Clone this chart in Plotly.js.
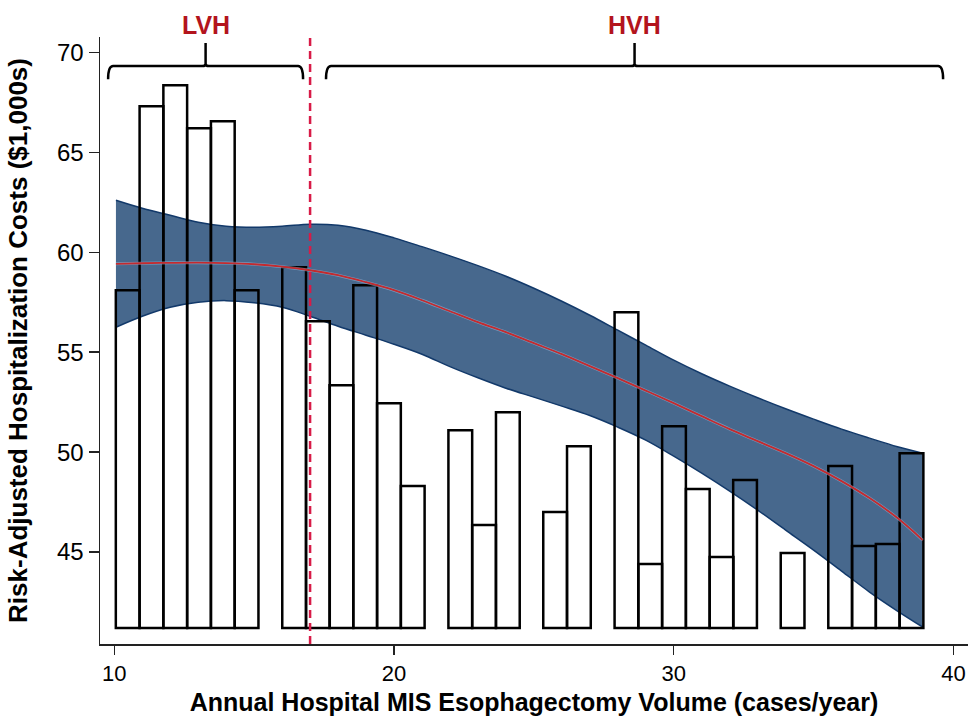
<!DOCTYPE html>
<html>
<head>
<meta charset="utf-8">
<script src="https://cdn.plot.ly/plotly-3.0.1.min.js"></script>
<style>html,body{margin:0;padding:0;background:#fff;}#chart{width:979px;height:724px;}</style>
</head>
<body>
<div id="chart"></div>
<script>
// ---- Data ----
// Hospital volume bins (bin centres, cases/year) and their risk-adjusted costs ($1,000s)
var binCenters = [10.48, 11.33, 12.18, 13.03, 13.88, 14.73,
                  16.43, 17.28, 18.12, 18.97, 19.82, 20.67,
                  22.37, 23.22, 24.07,
                  25.76, 26.61,
                  28.31, 29.16, 30.01, 30.86, 31.71, 32.55,
                  34.25,
                  35.95, 36.80, 37.65, 38.50];
var binCosts   = [58.1, 67.3, 68.35, 66.2, 66.55, 58.1,
                  59.25, 56.55, 53.35, 58.35, 52.45, 48.3,
                  51.1, 46.35, 52.0,
                  47.0, 50.3,
                  57.0, 44.4, 51.3, 48.15, 44.75, 48.6,
                  44.95,
                  49.3, 45.3, 45.4, 49.95];
var binBase = 41.2;
var binWidth = 0.849;

// Fitted curve with 95% confidence band
var fitX     = [10.06, 11, 12, 13, 14, 15, 16, 17, 18, 19, 20, 21, 22, 23, 24, 25, 26, 27, 28, 29, 30, 31, 32, 33, 34, 35, 36, 37, 38, 38.9];
var fitY     = [59.42, 59.45, 59.47, 59.48, 59.46, 59.4, 59.28, 59.1, 58.85, 58.5, 58.1, 57.6, 57.05, 56.5, 56.0, 55.45, 54.9, 54.3, 53.7, 53.08, 52.45, 51.8, 51.15, 50.55, 49.95, 49.3, 48.55, 47.7, 46.7, 45.6];
var ciUpper  = [62.6, 62.2, 61.85, 61.5, 61.3, 61.25, 61.3, 61.4, 61.35, 61.1, 60.72, 60.28, 59.82, 59.33, 58.8, 58.2, 57.55, 56.85, 56.1, 55.35, 54.6, 53.92, 53.3, 52.72, 52.17, 51.65, 51.15, 50.7, 50.27, 49.95];
var ciLower  = [56.25, 56.8, 57.25, 57.5, 57.58, 57.47, 57.25, 56.8, 56.3, 55.85, 55.4, 54.9, 54.28, 53.72, 53.2, 52.75, 52.3, 51.83, 51.25, 50.6, 49.8, 48.95, 48.05, 47.1, 46.1, 45.1, 44.05, 43.0, 42.05, 41.25];

// Volume groups and threshold
var groupNames = ['LVH', 'HVH'];
var groupStart = [9.78, 17.57];
var groupEnd   = [16.75, 39.63];
var threshold  = 17;

// Axis ticks
var xTicks = [10, 20, 30, 40];
var yTicks = [45, 50, 55, 60, 65, 70];

var xRange = [9.49, 40.52];
var yRange = [40.4, 70.77];

var FONT = 'Arial, "Liberation Sans", Helvetica, sans-serif';
var BAND_FILL = '#47688d';
var BAND_EDGE = '#12396a';
var RED = '#b3141d';

var traces = [
  {x: fitX, y: ciLower, type: 'scatter', mode: 'lines', line: {color: BAND_EDGE, width: 1.5, shape: 'spline'}, hoverinfo: 'skip', showlegend: false, xaxis: 'x', yaxis: 'y'},
  {x: fitX, y: ciUpper, type: 'scatter', mode: 'lines', fill: 'tonexty', fillcolor: BAND_FILL, line: {color: BAND_EDGE, width: 1.5, shape: 'spline'}, hoverinfo: 'skip', showlegend: false, xaxis: 'x', yaxis: 'y'},
  {x: binCenters, y: binCosts.map(function(v){return v - binBase;}), base: binBase, width: binWidth, type: 'bar',
   marker: {color: 'rgba(0,0,0,0)', line: {color: '#000', width: 2.5}}, showlegend: false, xaxis: 'x2', yaxis: 'y2'},
  {x: fitX, y: fitY, type: 'scatter', mode: 'lines', line: {color: 'rgba(150,195,230,0.55)', width: 3, shape: 'spline'}, hoverinfo: 'skip', showlegend: false, xaxis: 'x2', yaxis: 'y2'},
  {x: fitX, y: fitY, type: 'scatter', mode: 'lines', line: {color: '#c42a2e', width: 1.8, shape: 'spline'}, showlegend: false, xaxis: 'x2', yaxis: 'y2'}
];

// Brackets over the groups
function bracketPath(x0, x1) {
  var yLine = 69.315, yHook = 68.66, yTop = 70.47, r = 0.18, r2 = 0.12, d = 0.12;
  var xc = (x0 + x1) / 2;
  return 'M' + x0 + ',' + yHook + ' Q' + x0 + ',' + yLine + ' ' + (x0 + r) + ',' + yLine +
         ' L' + (xc - r2) + ',' + yLine + ' Q' + xc + ',' + yLine + ' ' + xc + ',' + (yLine + d) +
         ' L' + xc + ',' + yTop +
         ' M' + xc + ',' + (yLine + d) + ' Q' + xc + ',' + yLine + ' ' + (xc + r2) + ',' + yLine +
         ' L' + (x1 - r) + ',' + yLine + ' Q' + x1 + ',' + yLine + ' ' + x1 + ',' + yHook;
}

var shapes = [
  {type: 'line', xref: 'x', yref: 'paper', x0: threshold, x1: threshold, y0: 0, y1: 1,
   line: {color: '#d81b47', width: 2.5, dash: '8px,5px'}, layer: 'above'}
];
var annotations = [];
for (var i = 0; i < groupNames.length; i++) {
  shapes.push({type: 'path', xref: 'x', yref: 'y', path: bracketPath(groupStart[i], groupEnd[i]),
               line: {color: '#000', width: 2.5}, layer: 'above'});
  annotations.push({text: '<b>' + groupNames[i] + '</b>', x: (groupStart[i] + groupEnd[i]) / 2, xref: 'x',
                    y: 1.0203, yref: 'paper', yanchor: 'middle', xanchor: 'center', showarrow: false,
                    font: {family: FONT, size: 25, color: RED}});
}

var axisCommon = {showgrid: false, zeroline: false, showline: true, linecolor: '#222', linewidth: 1.5,
                  ticks: 'outside', tickcolor: '#222', tickwidth: 1.5};

var layout = {
  width: 979, height: 724,
  margin: {l: 100, r: 11, t: 37, b: 80},
  paper_bgcolor: '#fff', plot_bgcolor: '#fff',
  font: {family: FONT, color: '#000'},
  showlegend: false,
  bargap: 0,
  xaxis: Object.assign({}, axisCommon, {range: xRange, tickvals: xTicks, ticklen: 9,
          tickfont: {family: FONT, size: 22, color: '#000'},
          title: {text: '<b>Annual Hospital MIS Esophagectomy Volume (cases/year)</b>', font: {family: FONT, size: 25, color: '#000'}, standoff: 8}}),
  yaxis: Object.assign({}, axisCommon, {range: yRange, tickvals: yTicks, ticklen: 10,
          tickfont: {family: FONT, size: 24, color: '#000'},
          title: {text: '<b>Risk-Adjusted Hospitalization Costs ($1,000s)</b>', font: {family: FONT, size: 26, color: '#000'}, standoff: 22}}),
  xaxis2: {range: xRange, overlaying: 'x', anchor: 'y2', visible: false, showgrid: false, zeroline: false},
  yaxis2: {range: yRange, overlaying: 'y', anchor: 'x2', visible: false, showgrid: false, zeroline: false},
  shapes: shapes,
  annotations: annotations
};

Plotly.newPlot('chart', traces, layout, {displayModeBar: false, staticPlot: true});
</script>
</body>
</html>
